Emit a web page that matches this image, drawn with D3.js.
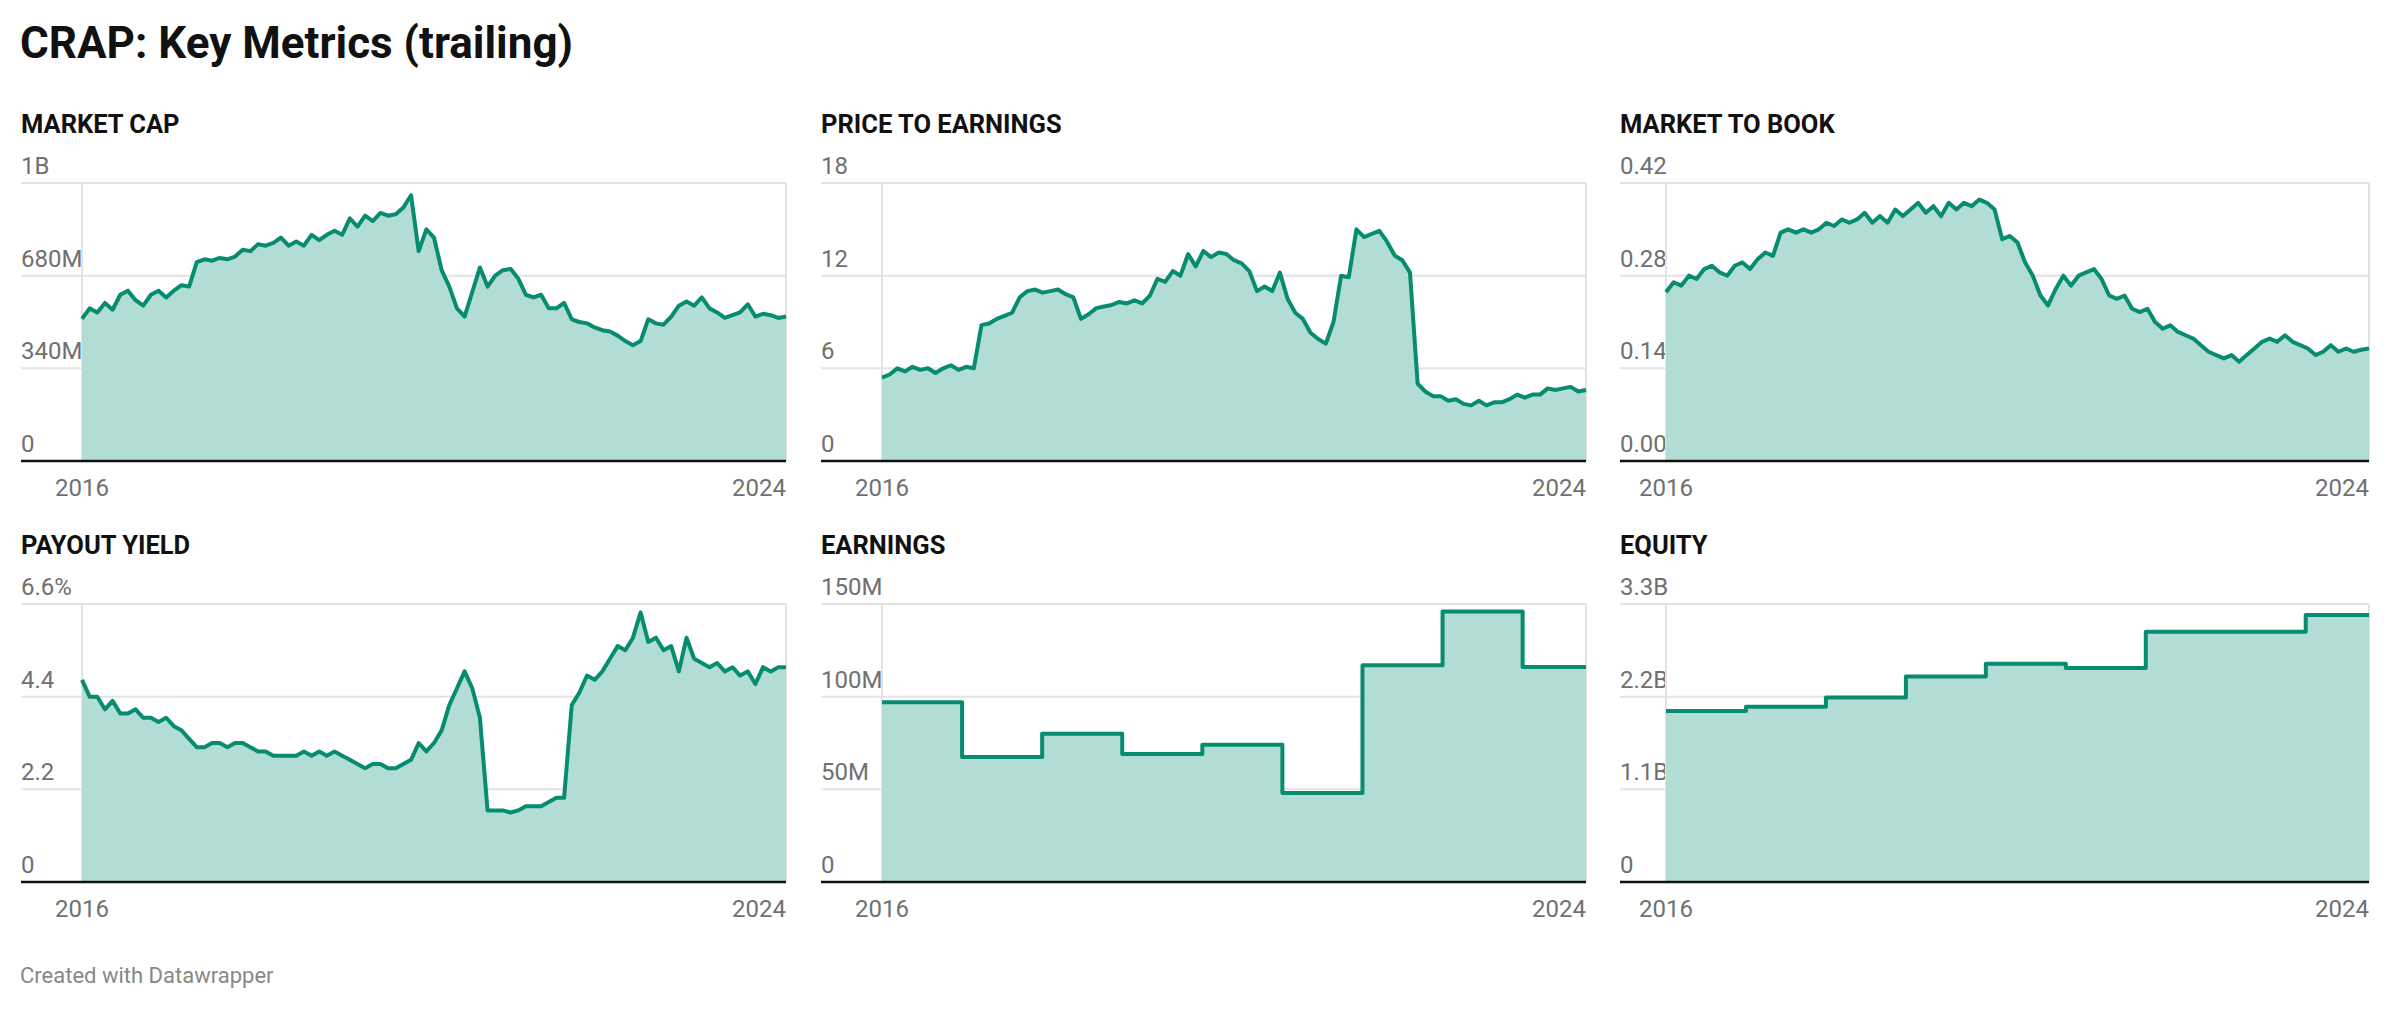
<!DOCTYPE html>
<html><head><meta charset="utf-8">
<script src="https://cdn.jsdelivr.net/npm/d3@7"></script>
<style>body{margin:0;background:#fff;font-family:Roboto,sans-serif}</style>
</head><body><svg id="c" width="2392" height="1010"></svg>
<script>
const title = "CRAP: Key Metrics (trailing)";
const footer = "Created with Datawrapper";
const xTickLabels = ["2016", "2024"];
const yearStart = 2016, yearEnd = 2024;

const marketCap = [522,560,545,580,555,610,625,590,570,610,625,600,625,645,640,730,740,735,745,740,750,775,770,795,790,800,820,790,805,790,830,810,830,845,830,890,860,900,880,910,900,905,930,975,770,850,820,700,640,560,530,620,710,640,680,700,705,670,610,600,610,560,560,580,520,510,505,490,480,475,460,440,425,440,520,505,500,530,570,585,570,600,560,545,525,535,545,575,530,540,535,525,530];
const priceToEarnings = [5.4,5.6,6.0,5.8,6.1,5.9,6.0,5.7,6.0,6.2,5.9,6.1,6.0,8.8,8.9,9.2,9.4,9.6,10.6,11.0,11.1,10.9,11.0,11.1,10.8,10.6,9.2,9.5,9.9,10.0,10.1,10.3,10.2,10.4,10.2,10.7,11.8,11.6,12.3,12.0,13.4,12.6,13.6,13.2,13.5,13.4,13.0,12.8,12.3,11.0,11.3,11.0,12.2,10.5,9.6,9.2,8.3,7.9,7.6,9.0,12.0,11.9,15.0,14.5,14.7,14.9,14.2,13.3,13.0,12.2,5.0,4.5,4.2,4.2,3.9,4.0,3.7,3.6,3.9,3.6,3.8,3.8,4.0,4.3,4.1,4.3,4.3,4.7,4.6,4.7,4.8,4.5,4.6];
const marketToBook = [0.255,0.27,0.265,0.28,0.275,0.29,0.295,0.285,0.28,0.295,0.3,0.29,0.305,0.315,0.31,0.345,0.35,0.345,0.35,0.345,0.35,0.36,0.355,0.365,0.36,0.365,0.375,0.36,0.37,0.36,0.38,0.37,0.38,0.39,0.375,0.385,0.37,0.39,0.38,0.39,0.385,0.395,0.39,0.38,0.335,0.34,0.33,0.3,0.28,0.25,0.235,0.26,0.28,0.265,0.28,0.285,0.29,0.275,0.25,0.245,0.25,0.23,0.225,0.23,0.21,0.2,0.205,0.195,0.19,0.185,0.175,0.165,0.16,0.155,0.16,0.15,0.16,0.17,0.18,0.185,0.18,0.19,0.18,0.175,0.17,0.16,0.165,0.175,0.165,0.17,0.165,0.168,0.17];
const payoutYield = [4.8,4.4,4.4,4.1,4.3,4.0,4.0,4.1,3.9,3.9,3.8,3.9,3.7,3.6,3.4,3.2,3.2,3.3,3.3,3.2,3.3,3.3,3.2,3.1,3.1,3.0,3.0,3.0,3.0,3.1,3.0,3.1,3.0,3.1,3.0,2.9,2.8,2.7,2.8,2.8,2.7,2.7,2.8,2.9,3.3,3.1,3.3,3.6,4.2,4.6,5.0,4.6,3.9,1.7,1.7,1.7,1.65,1.7,1.8,1.8,1.8,1.9,2.0,2.0,4.2,4.5,4.9,4.8,5.0,5.3,5.6,5.5,5.8,6.4,5.7,5.8,5.5,5.6,5.0,5.8,5.3,5.2,5.1,5.2,5.0,5.1,4.9,5.0,4.7,5.1,5.0,5.1,5.1];
const stepYears = [2016,2016.91,2017.82,2018.73,2019.64,2020.55,2021.46,2022.37,2023.28];
const earnings = [97,67.5,80,69,74,48,117,146,116];      // millions
const equity = [2.03,2.08,2.19,2.44,2.59,2.54,2.97,2.97,3.17]; // billions

const panels = [
 {name:"MARKET CAP", vals:marketCap, max:1020, ticks:[0,340,680,1020], labels:["0","340M","680M","1B"], step:false},
 {name:"PRICE TO EARNINGS", vals:priceToEarnings, max:18, ticks:[0,6,12,18], labels:["0","6","12","18"], step:false},
 {name:"MARKET TO BOOK", vals:marketToBook, max:0.42, ticks:[0,0.14,0.28,0.42], labels:["0.00","0.14","0.28","0.42"], step:false},
 {name:"PAYOUT YIELD", vals:payoutYield, max:6.6, ticks:[0,2.2,4.4,6.6], labels:["0","2.2","4.4","6.6%"], step:false},
 {name:"EARNINGS", vals:earnings, max:150, ticks:[0,50,100,150], labels:["0","50M","100M","150M"], step:true},
 {name:"EQUITY", vals:equity, max:3.3, ticks:[0,1.1,2.2,3.3], labels:["0","1.1B","2.2B","3.3B"], step:true}
];

const svg = d3.select("#c");
svg.append("text").attr("x",20).attr("y",58).attr("font-size",44).attr("font-weight",700).attr("fill","#111").text(title);
svg.append("text").attr("x",20).attr("y",983).attr("font-size",22).attr("fill","#888").text(footer);

const colLeft = [21, 821, 1620], plotLeft = [82, 882, 1666], plotRight = [786, 1586, 2369];
const rows = [{title:133, top:183, base:461}, {title:554, top:604, base:882}];
const lineC = "#078c70", fillC = "#b2ddd4";

panels.forEach((p, i) => {
  const c = i % 3, r = rows[Math.floor(i/3)];
  const g = svg.append("g");
  g.append("text").attr("x",colLeft[c]).attr("y",r.title).attr("font-size",25.5).attr("font-weight",700).attr("fill","#111").text(p.name);
  const x = d3.scaleLinear().domain([yearStart, yearEnd]).range([plotLeft[c], plotRight[c]]);
  const y = d3.scaleLinear().domain([0, p.max]).range([r.base, r.top]);
  let pts;
  if (p.step) {
    pts = p.vals.map((v,k)=>[stepYears[k], v]);
    pts.push([yearEnd, p.vals[p.vals.length-1]]);
  } else {
    const n = p.vals.length;
    pts = p.vals.map((v,k)=>[yearStart + k*(yearEnd-yearStart)/(n-1), v]);
  }
  p.ticks.forEach((t,k)=>{
    if (k>0) g.append("line").attr("x1",colLeft[c]).attr("x2",plotRight[c]).attr("y1",y(t)).attr("y2",y(t)).attr("stroke","#e3e3e3").attr("stroke-width",2);
    g.append("text").attr("x",colLeft[c]).attr("y",y(t)-9).attr("font-size",24).attr("fill","#707070").text(p.labels[k]);
  });
  g.append("line").attr("x1",x(yearStart)).attr("x2",x(yearStart)).attr("y1",r.top).attr("y2",r.base).attr("stroke","#e3e3e3").attr("stroke-width",2);
  g.append("line").attr("x1",x(yearEnd)).attr("x2",x(yearEnd)).attr("y1",r.top).attr("y2",r.base).attr("stroke","#e3e3e3").attr("stroke-width",2);
  const curve = p.step ? d3.curveStepAfter : d3.curveLinear;
  g.append("path").datum(pts).attr("fill",fillC)
    .attr("d", d3.area().x(d=>x(d[0])).y0(y(0)).y1(d=>y(d[1])).curve(curve));
  g.append("path").datum(pts).attr("fill","none").attr("stroke",lineC).attr("stroke-width",4).attr("stroke-linejoin","round")
    .attr("d", d3.line().x(d=>x(d[0])).y(d=>y(d[1])).curve(curve));
  g.append("line").attr("x1",colLeft[c]).attr("x2",plotRight[c]).attr("y1",r.base).attr("y2",r.base).attr("stroke","#111").attr("stroke-width",2.5);
  g.append("text").attr("x",x(yearStart)).attr("y",r.base+35).attr("text-anchor","middle").attr("font-size",24).attr("fill","#707070").text(xTickLabels[0]);
  g.append("text").attr("x",x(yearEnd)).attr("y",r.base+35).attr("text-anchor","end").attr("font-size",24).attr("fill","#707070").text(xTickLabels[1]);
});
</script></body></html>
